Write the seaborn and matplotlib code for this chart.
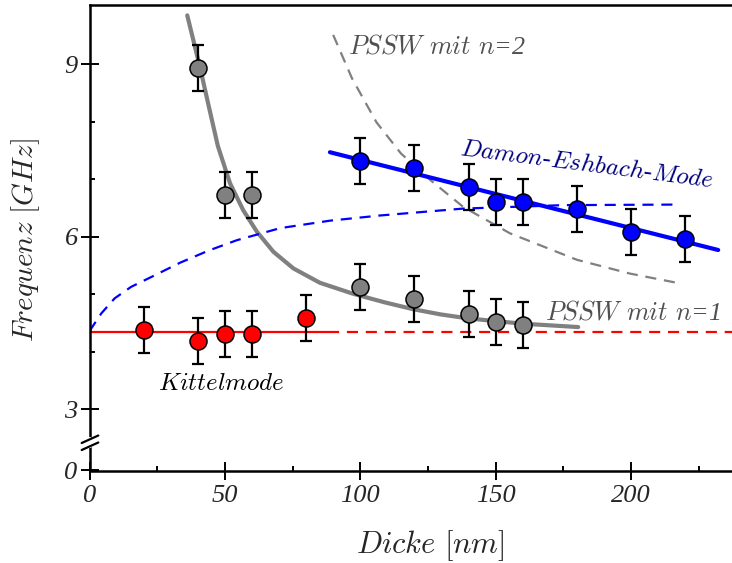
import numpy as np
import pandas as pd
import seaborn as sns
import matplotlib.pyplot as plt
from matplotlib.lines import Line2D

# measured points (thickness in nm, frequency in GHz)
kittel_x = [20, 40, 50, 60, 80]
kittel_y = [4.38, 4.19, 4.31, 4.31, 4.59]

pssw_x = [40, 50, 60, 100, 120, 140, 150, 160]
pssw_y = [8.94, 6.72, 6.73, 5.13, 4.92, 4.66, 4.52, 4.47]

de_x = [100, 120, 140, 150, 160, 180, 200, 220]
de_y = [7.32, 7.20, 6.87, 6.61, 6.60, 6.48, 6.08, 5.96]

err = 0.4

# theory / fit curves
kittel_line_x = [0, 88]
kittel_line_y = [4.34, 4.34]
kittel_dash_x = [88, 240]
kittel_dash_y = [4.34, 4.34]

pssw1_x = [36.1, 40.8, 44, 47.4, 51.9, 56.8, 61.8, 67.9, 75.3, 85.1, 97.3, 109,
           119.6, 129.7, 139.9, 159.6, 180.5]
pssw1_y = [9.85, 8.95, 8.28, 7.58, 6.93, 6.46, 6.09, 5.74, 5.45, 5.20, 5.01, 4.86,
           4.74, 4.65, 4.58, 4.49, 4.43]

pssw2_x = [90, 97, 106, 115, 125.8, 138, 155.3, 180, 199.6, 218]
pssw2_y = [9.51, 8.75, 7.99, 7.45, 6.99, 6.52, 6.06, 5.60, 5.36, 5.19]

de_theo_x = [0, 4.4, 9.3, 15.4, 24.1, 33.5, 44, 54.4, 70.4, 88.8, 107.3, 138, 175, 217.5]
de_theo_y = [4.36, 4.67, 4.93, 5.13, 5.33, 5.55, 5.76, 5.94, 6.15, 6.28, 6.37, 6.49, 6.55, 6.56]

de_fit_x = [88.8, 232.2]
de_fit_y = [7.47, 5.77]

y_bottom = 1.936  # shown as "0" below the axis break

sns.set_theme(style='white')
plt.rcParams['mathtext.fontset'] = 'cm'
plt.rcParams['font.family'] = ['Liberation Serif', 'DejaVu Serif']

fig = plt.figure(figsize=(7.32, 5.63), dpi=100)
ax = fig.add_axes([89.5 / 732, (563 - 470.5) / 563, 649.8 / 732, (470.5 - 5) / 563])

grey = '#808080'
dash = (0, (5, 3.5))

# curves
sns.lineplot(x=pssw1_x, y=pssw1_y, ax=ax, color=grey, lw=3, sort=False, estimator=None)
sns.lineplot(x=pssw2_x, y=pssw2_y, ax=ax, color=grey, lw=1.6, sort=False, estimator=None,
             linestyle=dash)
sns.lineplot(x=de_theo_x, y=de_theo_y, ax=ax, color='#0000ff', lw=1.6, sort=False,
             estimator=None, linestyle=dash)
sns.lineplot(x=de_fit_x, y=de_fit_y, ax=ax, color='#0000ff', lw=3, sort=False, estimator=None)
sns.lineplot(x=kittel_line_x, y=kittel_line_y, ax=ax, color='#ff0000', lw=1.6,
             sort=False, estimator=None)
sns.lineplot(x=kittel_dash_x, y=kittel_dash_y, ax=ax, color='#ff0000', lw=1.6,
             sort=False, estimator=None, linestyle=dash)

# data with error bars
for xs, ys, col in [(pssw_x, pssw_y, grey), (de_x, de_y, '#0000ff'), (kittel_x, kittel_y, '#ff0000')]:
    ax.errorbar(xs, ys, yerr=err, fmt='none', ecolor='black', elinewidth=1.6,
                capsize=4, capthick=1.6, zorder=4)
    sns.scatterplot(x=xs, y=ys, ax=ax, color=col, s=150, edgecolor='black',
                    linewidth=1.1, zorder=5)

# labels in the plot
ax.text(95.5, 9.19, r'$\mathit{PSSW\ mit\ n}$=2', color='#505050', fontsize=18.8,
        style='italic', ha='left', va='baseline')
ax.text(168.2, 4.57, r'$\mathit{PSSW\ mit\ n}$=1', color='#505050', fontsize=18.8,
        style='italic', ha='left', va='baseline')
ax.text(183.8, 7.25, r'$\mathit{Damon}$-$\mathit{Eshbach}$-$\mathit{Mode}$', color='#000080',
        fontsize=18, style='italic', ha='center', va='center', rotation=-7.3,
        rotation_mode='anchor')
ax.text(25.3, 3.34, r'$\mathit{Kittelmode}$', color='black', fontsize=18,
        ha='left', va='baseline')

ax.set_xlim(0, 240)
ax.set_ylim(y_bottom, 10.03)

ax.set_xticks([0, 50, 100, 150, 200])
ax.set_xticklabels(['0', '50', '100', '150', '200'])
ax.set_xticks([25, 75, 125, 175, 225], minor=True)
ax.set_yticks([y_bottom, 3, 6, 9])
ax.set_yticklabels(['0', '3', '6', '9'])
ax.set_yticks([4, 5, 7, 8], minor=True)

for t in ax.get_xticklabels() + ax.get_yticklabels():
    t.set_fontstyle('italic')
    t.set_fontsize(19)

ax.tick_params(which='major', direction='inout', length=13, width=1.4, color='black')
ax.tick_params(which='minor', direction='in', length=3.5, width=1.4, color='black')
ax.tick_params(axis='x', which='major', pad=4)
ax.tick_params(axis='y', which='major', pad=2)
ax.tick_params(which='both', left=True, bottom=True, top=False, right=False)

for s in ['left', 'bottom', 'top']:
    ax.spines[s].set_linewidth(1.8)
    ax.spines[s].set_color('black')
ax.spines['right'].set_visible(False)

ax.set_xlabel(r'$\mathit{Dicke\ [nm]}$', fontsize=22)
ax.set_ylabel(r'$\mathit{Frequenz\ [GHz]}$', fontsize=21)
ax.xaxis.set_label_coords(0.525, -0.124)
ax.yaxis.set_label_coords(-0.073, 0.495)

# axis break on the y axis
def fx(px):
    return px / 732

def fy(py):
    return 1 - py / 563

fig.add_artist(Line2D([fx(89.5), fx(89.5)], [fy(439), fy(446)], color='white', lw=3))
fig.add_artist(Line2D([fx(81.7), fx(98.3)], [fy(450), fy(442.5)], color='black', lw=1.6))
fig.add_artist(Line2D([fx(81.7), fx(98.3)], [fy(443), fy(435.5)], color='black', lw=1.6))

fig.savefig('out.png', dpi=100)
